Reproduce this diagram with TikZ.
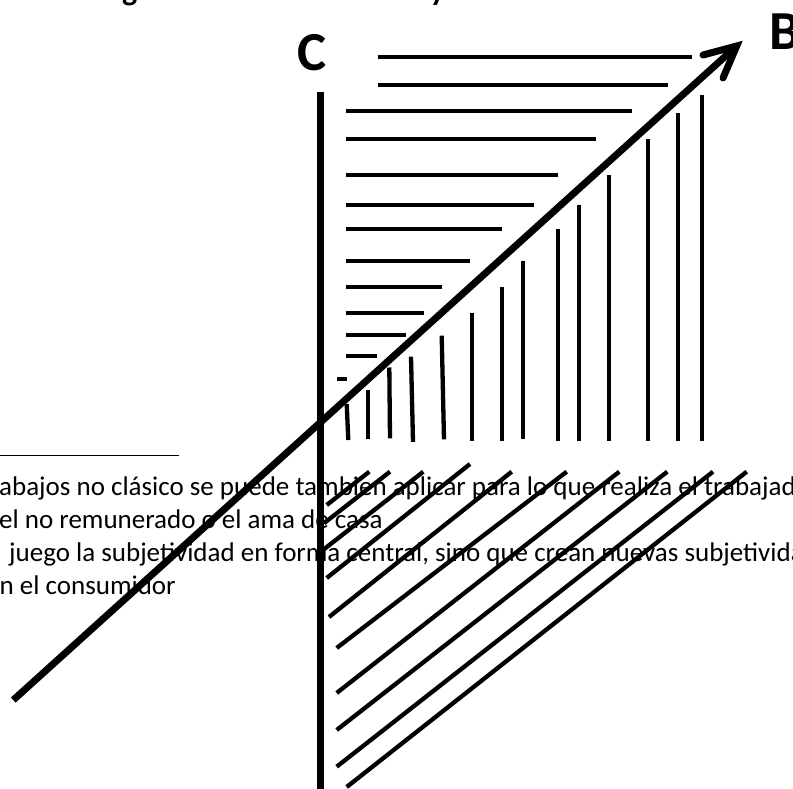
\documentclass[tikz,border=0pt]{standalone}
\usepackage{fontspec}
\setmainfont{Carlito}
\begin{document}
\begin{tikzpicture}[x=1pt,y=-1pt,
  hatch/.style={line width=4.3pt},
  axisline/.style={line width=7pt},
  bigletter/.style={font=\fontsize{55}{60}\selectfont\bfseries, inner sep=0pt, anchor=base west},
  titlefrag/.style={font=\fontsize{32}{36}\selectfont\bfseries, inner sep=0pt, anchor=base west},
  bodytext/.style={font=\fontsize{27}{33}\selectfont, inner sep=0pt, anchor=base west}]
\useasboundingbox (0,0) rectangle (793,789);
\clip (0,0) rectangle (793,789);
% cut-off title (only descenders visible)
\node[titlefrag] (tg) at (122,0.5) {g};
\node[titlefrag] (ty) at (430,0.5) {y};
% footnote rule and text
\coordinate (r1) at (0,455.7);
\coordinate (r2) at (179,455.7);
\draw[line width=1.3pt] (r1) -- (r2);
\node[bodytext] (t1) at (-1,495) {abajos no clásico se puede tambien aplicar para lo que realiza el trabajador};
\node[bodytext] (t2) at (-1,528) {el no remunerado o el ama de casa};
\node[bodytext] (t3) at (9,561) {juego la subjetividad en forma central, sino que crean nuevas subjetividades};
\node[bodytext] (t4) at (-0.5,594) {n el consumidor};
% labels
\node[bigletter] (C) at (297,70.5) {C};
\node[bigletter] (B) at (769,50) {B};
% horizontal hatches
\foreach \y/\a/\b in {56.7/378/691.7, 85/378/667.7, 111/346/631.7, 139/346/595.7,
  175/346/557.7, 205/346/534, 229/346/501.7, 261/346/470, 287/346/441.7,
  313.3/346/424, 335/346/406, 355.7/346/376.7, 379.3/337.3/347.3}
  \draw[hatch] (\a,\y) -- (\b,\y);
% vertical hatches
\foreach \xt/\yt/\xb/\yb in {346.7/404/348.3/440, 368.3/390/368.3/439.3,
  389.3/367.5/390/438.3, 411/356.7/413/442, 441.7/335.7/444/439.3,
  471.7/313.3/471.7/440.5, 501.7/287.3/501.7/440.5, 523.3/261/523.3/439,
  557.7/229.3/557.7/441, 579.3/205/579.3/441, 609.3/175/609.3/441,
  647.7/139.3/647.7/441, 677.7/113.3/677.7/441, 701.7/95/701.7/441}
  \draw[hatch] (\xt,\yt) -- (\xb,\yb);
% diagonal hatches
\foreach \xa/\ya/\xb/\yb in {326.7/505/369.3/471.7, 324/523.2/390/471.7,
  324/549.2/423.3/471.7, 326.7/578/470/464, 329/617/511.7/471.7,
  336.7/648/566.7/471.7, 336.7/693/619.3/471.7, 336.7/730/667.3/471.7,
  336.7/766.7/713/471.7, 346.7/787/746.7/471.7}
  \draw[hatch] (\xa,\ya) -- (\xb,\yb);
% vertical axis C
\coordinate (ctop) at (320,91.7);
\coordinate (cbot) at (320,795);
\draw[axisline] (ctop) -- (cbot);
% arrow to B
\coordinate (astart) at (13.3,700);
\coordinate (atip) at (736.7,46);
\coordinate (barb1) at (703,55);
\coordinate (barb2) at (723,78);
\draw[axisline] (astart) -- (atip);
\draw[axisline, line cap=round, line join=miter] (barb1) -- (atip) -- (barb2);
\end{tikzpicture}
\end{document}
